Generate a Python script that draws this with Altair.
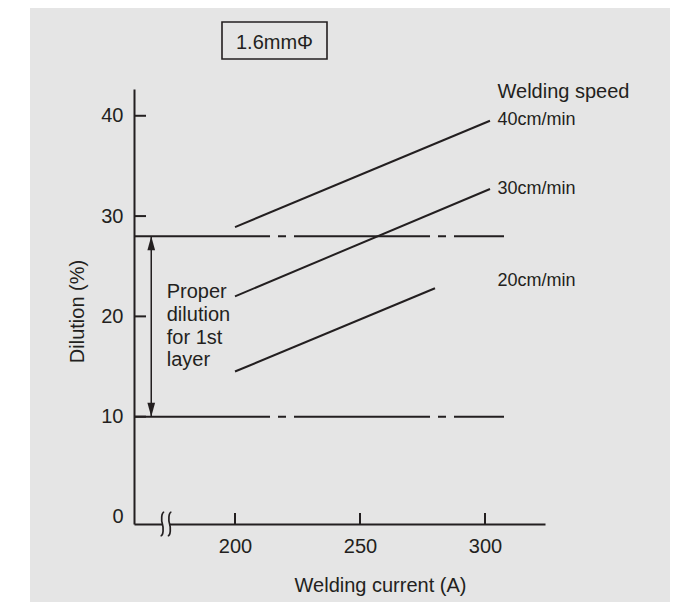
import altair as alt
import pandas as pd

# ---- data ----
SPEEDS = ["40cm/min", "30cm/min", "20cm/min"]
CURRENT_START = [200, 200, 200]
CURRENT_END = [302, 302, 280]
DILUTION_START = [28.9, 22.0, 14.5]
DILUTION_END = [39.5, 32.7, 22.8]
SPEED_LABEL_Y = [39.1, 32.2, 23.0]
PROPER_LIMITS = [28, 10]
LIMIT_LINE_END = 307.6
X_TICKS = [200, 250, 300]
Y_TICKS = [0, 10, 20, 30, 40]
Y_TICK_MARKS = [10, 20, 30, 40]
ARROW_X = 166.5
BREAK_X = 172.4

X_MIN, X_MAX = 159.6, 324.0
Y_MIN, Y_MAX = -0.7, 42.67

INK = "#231f20"
BG = "#e5e5e5"
FONT = "Liberation Sans"

XS = alt.Scale(domain=[X_MIN, X_MAX], nice=False, zero=False)
YS = alt.Scale(domain=[Y_MIN, Y_MAX], nice=False, zero=False)

X_AXIS = alt.Axis(values=X_TICKS, ticks=False, tickSize=0, grid=False,
                  domainColor=INK, domainWidth=2, labelFontSize=20,
                  labelColor=INK, labelFont=FONT, labelPadding=12,
                  labelFlush=False, labelOverlap=False,
                  title="Welding current (A)", titleFontSize=20, titleFont=FONT,
                  titleFontWeight="normal", titleColor=INK, titleX=246,
                  titleY=67.5, titleAlign="center", titleBaseline="alphabetic")
Y_AXIS = alt.Axis(values=Y_TICKS, ticks=False, tickSize=0, grid=False,
                  domainColor=INK, domainWidth=2, labelFontSize=20,
                  labelColor=INK, labelFont=FONT, labelPadding=11,
                  labelFlush=False, labelOverlap=False,
                  title="Dilution (%)", titleFontSize=20, titleFont=FONT,
                  titleFontWeight="normal", titleColor=INK, titleX=-57,
                  titleY=222, titleAngle=270, titleAlign="center",
                  titleBaseline="middle")


def X(field):
    return alt.X(field, type="quantitative", scale=XS, axis=X_AXIS)


def Y(field):
    return alt.Y(field, type="quantitative", scale=YS, axis=Y_AXIS)


one = pd.DataFrame({"k": [0]})

# white strip left of the grey panel
strip = alt.Chart(one).mark_rect(color="white").encode(
    x=alt.value(-126), x2=alt.value(-104), y=alt.value(-81), y2=alt.value(513))

# speed lines
rows = []
for s, x0, x1, y0, y1 in zip(SPEEDS, CURRENT_START, CURRENT_END, DILUTION_START, DILUTION_END):
    rows.append({"speed": s, "current": x0, "dilution": y0})
    rows.append({"speed": s, "current": x1, "dilution": y1})
lines_df = pd.DataFrame(rows)
speed_lines = alt.Chart(lines_df).mark_line(color=INK, strokeWidth=2).encode(
    x=X("current"), y=Y("dilution"), detail="speed:N")

# dash-dot limit lines
lim_rows = []
for lv in PROPER_LIMITS:
    lim_rows.append({"level": lv, "current": X_MIN, "dilution": lv})
    lim_rows.append({"level": lv, "current": LIMIT_LINE_END, "dilution": lv})
lim_df = pd.DataFrame(lim_rows)
limit_lines = alt.Chart(lim_df).mark_line(
    color=INK, strokeWidth=2, strokeDash=[136, 8, 8, 8], strokeCap="butt"
).encode(x=X("current"), y=Y("dilution"), detail="level:N")

# double arrow
arrow_df = pd.DataFrame({"current": [ARROW_X], "lo": [min(PROPER_LIMITS)], "hi": [max(PROPER_LIMITS)]})
arrow_rule = alt.Chart(arrow_df).mark_rule(color=INK, strokeWidth=1.5).encode(
    x=X("current"), y=Y("lo"), y2="hi")
head_down = alt.Chart(arrow_df).mark_point(
    shape="M -0.55 -1 L 0.55 -1 L 0 1 Z", filled=True, fill=INK, opacity=1,
    strokeWidth=0, size=196, yOffset=-7
).encode(x=X("current"), y=Y("lo"))
head_up = alt.Chart(arrow_df).mark_point(
    shape="M -0.55 1 L 0.55 1 L 0 -1 Z", filled=True, fill=INK, opacity=1,
    strokeWidth=0, size=196, yOffset=7
).encode(x=X("current"), y=Y("hi"))

# inward ticks
ytick_df = pd.DataFrame({"v": Y_TICK_MARKS})
yticks = alt.Chart(ytick_df).mark_rule(color=INK, strokeWidth=2).encode(
    y=Y("v"), x=alt.value(0), x2=alt.value(12))
xtick_df = pd.DataFrame({"v": X_TICKS})
xticks = alt.Chart(xtick_df).mark_rule(color=INK, strokeWidth=2).encode(
    x=X("v"), y=alt.value(435), y2=alt.value(424))

# axis break symbol
brk_df = pd.DataFrame({"current": [BREAK_X], "dilution": [Y_MIN]})
brk_gap = alt.Chart(brk_df).mark_point(
    shape="M -0.26 -0.2 L 0.26 -0.2 L 0.26 0.2 L -0.26 0.2 Z", filled=True,
    fill=BG, opacity=1, strokeWidth=0, size=576
).encode(x=X("current"), y=Y("dilution"))
brk_s = alt.Chart(brk_df).mark_point(
    shape=("M -0.15 -1 C -0.4 -0.95 -0.4 -0.3 -0.3 0 C -0.2 0.3 -0.2 0.95 -0.45 1 "
           "M 0.45 -1 C 0.2 -0.95 0.2 -0.3 0.3 0 C 0.4 0.3 0.4 0.95 0.15 1"),
    filled=False, stroke=INK, strokeWidth=1.7, opacity=1, size=576
).encode(x=X("current"), y=Y("dilution"))

# annotations
proper_df = pd.DataFrame({"current": [172.7], "dilution": [21.8],
                          "t": ["Proper\ndilution\nfor 1st\nlayer"]})
proper_txt = alt.Chart(proper_df).mark_text(
    align="left", baseline="alphabetic", fontSize=20, font=FONT, color=INK,
    lineBreak="\n", lineHeight=22.7
).encode(x=X("current"), y=Y("dilution"), text="t:N")

speed_title_df = pd.DataFrame({"current": [305], "dilution": [41.8], "t": ["Welding speed"]})
speed_title = alt.Chart(speed_title_df).mark_text(
    align="left", baseline="alphabetic", fontSize=20, font=FONT, color=INK
).encode(x=X("current"), y=Y("dilution"), text="t:N")

speed_lab_df = pd.DataFrame({"current": [305] * 3, "dilution": SPEED_LABEL_Y, "t": SPEEDS})
speed_labels = alt.Chart(speed_lab_df).mark_text(
    align="left", baseline="alphabetic", fontSize=18, font=FONT, color=INK
).encode(x=X("current"), y=Y("dilution"), text="t:N")

box_df = pd.DataFrame({"x0": [194.8], "x1": [236.8], "y0": [49.35], "y1": [45.66],
                       "cx": [215.8], "by": [46.7], "t": ["1.6mm\u03a6"]})
box_rect = alt.Chart(box_df).mark_rect(
    fillOpacity=0, stroke=INK, strokeWidth=1.6
).encode(x=X("x0"), x2="x1", y=Y("y0"), y2="y1")
box_txt = alt.Chart(box_df).mark_text(
    align="center", baseline="alphabetic", fontSize=20, font=FONT, color=INK
).encode(x=X("cx"), y=Y("by"), text="t:N")

chart = alt.layer(
    strip, limit_lines, speed_lines, arrow_rule, head_down, head_up,
    yticks, xticks, brk_gap, brk_s, proper_txt, speed_title, speed_labels,
    box_rect, box_txt
).properties(
    width=411, height=435,
    autosize=alt.AutoSizeParams(type="none"),
    padding={"left": 126, "top": 81, "right": 125, "bottom": 78},
    background=BG,
).configure_view(strokeWidth=0)

chart.save("out.html", embed_options={"renderer": "svg", "actions": False})
